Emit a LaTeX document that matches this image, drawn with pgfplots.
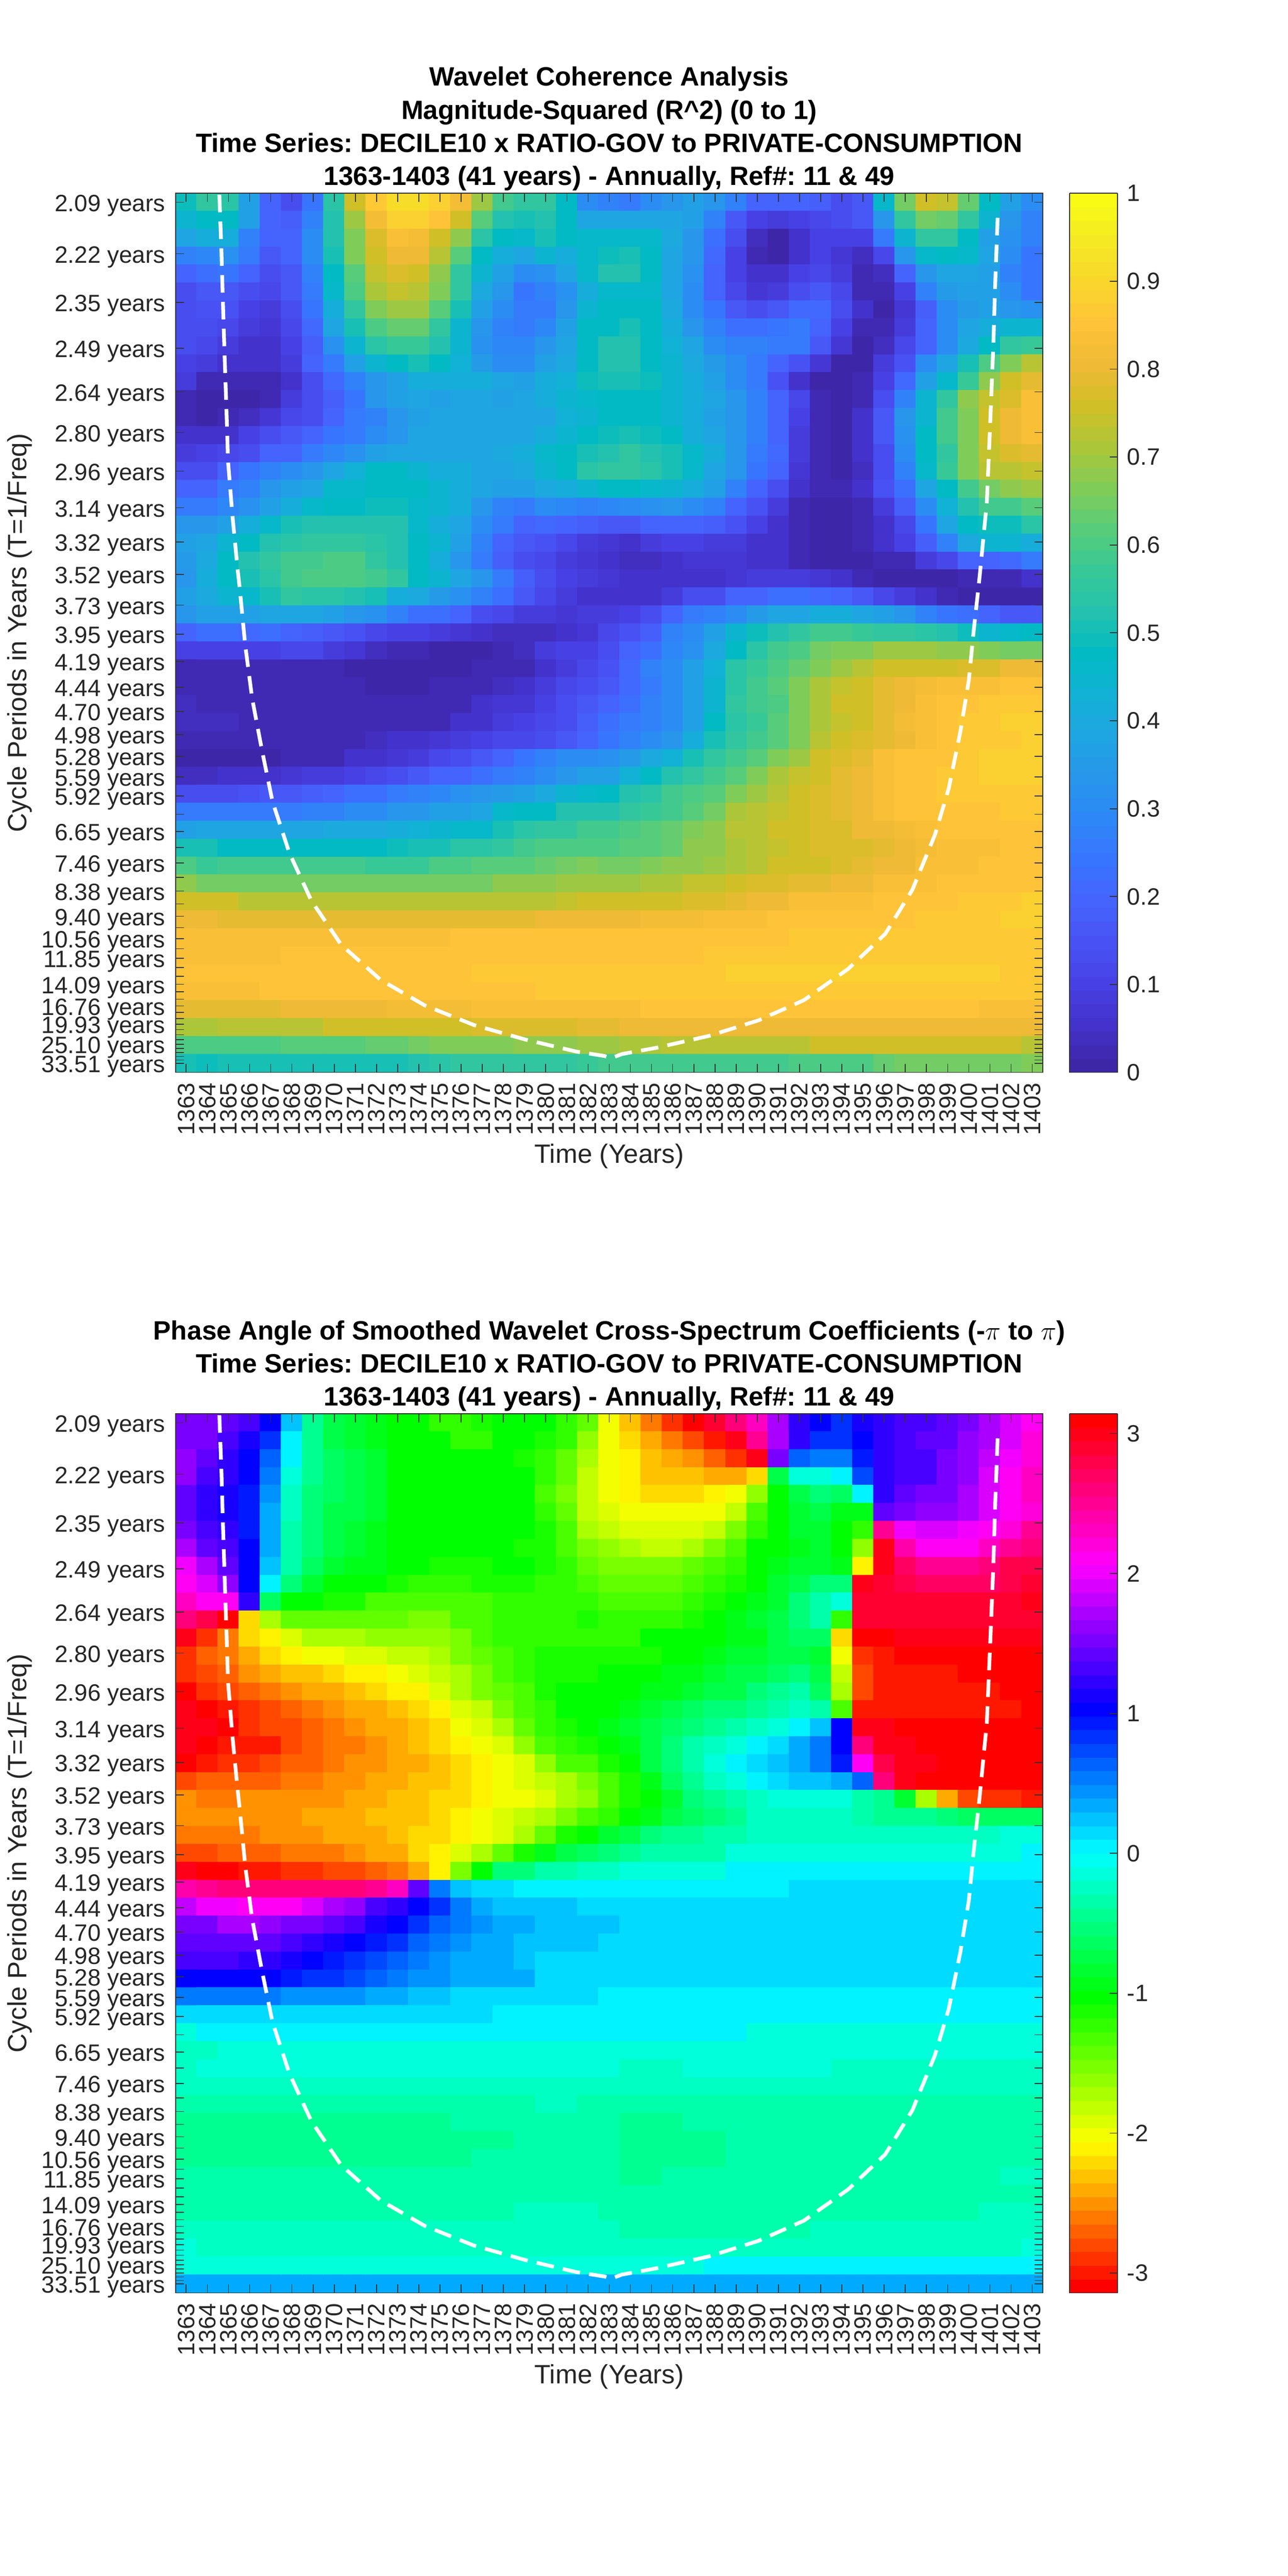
\documentclass[border=0pt]{standalone}
\usepackage{fontspec}
\setmainfont{Liberation Sans}
\usepackage{pgfplots}
\pgfplotsset{compat=1.18}
\frenchspacing

% base colour maps, both sampled to 64 levels further down
\pgfplotsset{colormap={parulabase}{
 rgb=(.2422,.1504,.6603) rgb=(.2647,.1978,.7952) rgb=(.2783,.2559,.8991) rgb=(.2810,.3228,.9579)
 rgb=(.2699,.3892,.9906) rgb=(.2206,.4603,.9973) rgb=(.1786,.5289,.9682) rgb=(.1540,.5902,.9218)
 rgb=(.1248,.6459,.8883) rgb=(.0689,.6948,.8394) rgb=(.0067,.7312,.7660) rgb=(.1408,.7584,.6842)
 rgb=(.2161,.7843,.5923) rgb=(.3406,.8008,.4789) rgb=(.5044,.7993,.3480) rgb=(.6720,.7793,.2227)
 rgb=(.8203,.7498,.1535) rgb=(.9393,.7288,.2100) rgb=(.9970,.7659,.2199) rgb=(.9786,.8386,.1766)
 rgb=(.9597,.9135,.1423) rgb=(.9769,.9839,.0805)}}
\pgfplotsset{colormap={hsvbase}{
 rgb=(1,0,0) rgb=(1,1,0) rgb=(0,1,0) rgb=(0,1,1) rgb=(0,0,1) rgb=(1,0,1) rgb=(1,0,0)}}
\pgfplotsset{colormap={parula64}{samples of colormap=(64 of parulabase)}}
\pgfplotsset{colormap={hsv64}{samples of colormap=(64 of hsvbase)}}

% one row of cells, top row first; rows are evenly spaced in frequency
\newcount\rowno
\def\cells{}
\newcommand\addrow[2]{%
 \pgfmathsetmacro\yy{0.4774-\the\rowno*0.009325}%
 \foreach \v [count=\i from 1363] in {#2}{\xdef\cells{\cells(\i,\yy)[#1\v]}\xdef\lasti{\i}}%
 \ifnum\lasti=1403 \else\errmessage{row \the\rowno\space ends at \lasti}\fi
 \global\advance\rowno by 1\relax}

% coherence, two digits after 0.
\addrow{0.}{49,56,54,36,20,13,24,54,76,86,92,92,88,82,70,58,55,55,48,30,27,25,30,33,36,33,27,20,20,20,18,13,17,46,65,75,74,63,47,37,30}
\addrow{0.}{45,47,47,36,20,18,28,52,70,82,88,88,85,76,62,53,50,52,47,39,38,38,38,38,36,27,17,10,09,10,12,13,16,34,55,65,63,55,45,33,27}
\addrow{0.}{38,42,41,28,20,20,30,52,66,78,83,82,76,68,54,47,46,50,47,46,46,46,46,40,33,23,13,04,01,05,10,10,10,25,44,56,56,48,36,32,27}
\addrow{0.}{27,29,32,26,17,19,30,50,66,76,81,80,73,62,47,42,38,44,41,46,49,50,47,38,33,21,10,03,01,06,10,07,04,12,33,46,47,46,38,30,24}
\addrow{0.}{20,23,24,19,14,17,28,47,61,74,78,76,68,56,45,37,30,32,38,46,52,52,47,38,32,20,10,05,05,10,12,08,02,04,20,33,38,38,36,28,24}
\addrow{0.}{13,17,17,14,11,16,25,46,60,71,74,72,67,55,40,33,24,27,32,41,46,46,46,38,30,20,12,07,08,14,17,12,03,03,10,28,35,36,36,30,24}
\addrow{0.}{13,15,15,10,08,13,24,42,55,67,70,70,61,50,36,30,25,26,34,45,48,48,47,40,31,24,17,14,16,21,21,14,05,01,07,18,30,35,37,34,32}
\addrow{0.}{13,14,12,08,07,12,21,38,50,60,64,64,56,45,33,28,25,29,36,47,48,50,47,42,33,27,23,23,24,25,20,10,03,03,09,20,30,38,42,44,44}
\addrow{0.}{13,12,08,06,06,10,18,32,44,54,57,57,53,45,32,29,29,33,38,47,52,52,48,43,38,30,27,27,25,25,16,07,01,04,12,20,30,40,48,55,57}
\addrow{0.}{10,09,06,05,06,09,20,26,36,45,47,50,47,43,35,30,30,37,40,47,52,52,48,44,40,35,30,26,20,15,07,01,01,08,15,30,38,50,60,67,73}
\addrow{0.}{08,03,03,02,02,05,13,21,27,33,37,42,42,42,42,38,36,41,43,49,50,50,49,44,41,36,30,25,15,05,01,01,03,10,21,37,46,57,68,76,79}
\addrow{0.}{03,01,01,01,03,08,13,18,24,33,36,38,37,38,38,37,38,42,44,46,47,48,47,45,42,38,33,28,20,11,03,01,02,14,28,44,55,68,74,78,84}
\addrow{0.}{03,01,03,04,07,12,14,20,25,28,33,37,38,38,39,38,38,39,43,45,47,47,47,45,41,37,33,27,19,10,03,01,05,17,33,45,58,67,76,80,84}
\addrow{0.}{05,05,06,10,14,16,20,24,25,30,34,38,38,38,39,39,39,41,44,48,49,50,49,48,42,38,34,28,20,09,03,01,06,16,32,47,58,67,76,80,84}
\addrow{0.}{09,10,12,14,20,20,25,29,32,36,38,38,39,39,39,40,42,46,47,50,53,55,53,50,46,41,34,26,21,08,03,01,05,14,31,47,55,66,74,77,79}
\addrow{0.}{13,13,20,24,27,30,33,38,43,47,47,44,42,41,39,39,40,45,48,54,56,56,54,50,46,38,34,24,19,07,03,01,04,13,27,46,57,66,72,72,74}
\addrow{0.}{20,20,26,27,34,36,38,46,46,47,47,47,44,42,38,36,36,40,42,45,47,47,46,45,42,36,28,20,13,06,02,02,05,15,23,38,48,58,65,68,70}
\addrow{0.}{26,26,29,32,37,41,46,48,48,49,49,46,45,41,34,28,25,30,29,28,29,30,32,33,31,27,20,15,08,03,01,01,03,08,18,31,43,52,58,58,62}
\addrow{0.}{33,33,36,42,46,50,52,53,52,53,52,46,42,38,30,25,20,21,20,18,17,17,19,20,20,18,15,10,06,02,01,01,03,06,12,24,38,47,49,49,54}
\addrow{0.}{36,38,44,47,53,54,55,56,56,54,52,47,45,37,27,20,17,15,12,09,07,06,08,10,10,09,08,06,05,03,01,01,02,05,10,18,27,40,45,45,41}
\addrow{0.}{35,40,47,53,56,58,59,60,60,55,53,48,42,34,25,18,14,12,09,07,06,04,04,05,07,07,07,06,05,02,01,01,01,02,03,08,11,20,20,21,26}
\addrow{0.}{34,41,47,50,54,58,60,60,60,58,55,47,44,38,33,26,18,14,10,09,07,06,05,05,06,06,07,08,09,08,07,05,03,01,01,01,01,03,03,02,06}
\addrow{0.}{36,40,45,46,50,55,54,54,52,50,42,40,35,32,28,22,16,11,09,06,05,05,06,09,13,14,19,20,22,22,21,20,16,11,09,05,03,01,01,00,00}
\addrow{0.}{33,36,37,37,38,38,38,36,34,32,28,23,22,20,14,11,08,08,07,08,08,10,13,20,26,28,31,35,38,39,41,41,38,37,33,28,24,22,20,17,17}
\addrow{0.}{20,22,22,21,22,19,18,16,15,12,10,10,08,07,05,04,04,04,06,07,12,15,18,27,30,36,45,49,53,56,58,58,57,56,56,54,52,49,45,46,47}
\addrow{0.}{10,10,10,10,10,12,11,08,07,04,03,02,01,01,01,03,04,08,10,10,14,19,23,29,32,40,48,54,58,60,65,66,67,69,70,70,68,68,67,65,65}
\addrow{0.}{03,02,02,02,02,02,02,02,01,01,01,01,01,01,02,02,03,06,08,11,15,21,27,31,36,43,54,57,60,63,66,70,73,75,76,76,76,77,77,80,80}
\addrow{0.}{03,03,03,03,03,02,02,03,02,01,01,01,03,03,03,04,06,09,12,13,16,21,25,30,37,45,54,58,61,67,71,74,76,79,80,82,83,84,84,85,85}
\addrow{0.}{04,03,03,03,03,03,03,03,03,02,02,02,03,03,05,07,07,10,13,16,20,23,27,30,37,45,56,58,60,67,71,75,76,79,80,84,85,85,86,86,86}
\addrow{0.}{04,04,04,03,03,03,03,03,03,03,03,03,03,05,05,08,10,12,14,18,22,25,28,31,37,47,54,57,62,67,71,74,76,79,82,84,85,86,87,88,88}
\addrow{0.}{03,03,03,03,03,03,03,03,03,04,05,05,07,09,10,11,12,14,17,19,24,27,30,33,42,50,55,58,61,66,72,75,77,79,80,84,85,86,86,87,88}
\addrow{0.}{01,01,01,01,01,02,03,03,05,06,07,09,12,13,17,20,24,27,31,30,32,35,40,43,50,55,58,62,66,70,75,77,79,84,85,85,85,87,88,89,89}
\addrow{0.}{04,04,05,05,06,07,08,09,10,12,14,16,19,20,23,25,28,30,33,36,37,43,47,53,55,58,62,66,71,74,75,79,80,84,85,85,86,87,88,88,88}
\addrow{0.}{13,13,14,15,16,17,18,20,22,23,25,27,29,32,34,35,37,40,45,46,48,52,54,58,60,61,66,70,72,76,77,79,81,84,85,85,86,87,87,87,87}
\addrow{0.}{25,25,26,26,26,26,28,28,30,31,33,34,36,37,38,46,47,48,52,52,53,55,57,59,62,65,71,72,74,76,77,79,81,83,85,85,85,85,85,86,86}
\addrow{0.}{36,38,38,38,39,39,39,40,40,40,42,43,44,46,46,51,54,55,56,58,59,60,62,63,67,68,72,73,75,76,77,78,80,81,82,83,85,85,85,85,85}
\addrow{0.}{50,50,47,48,47,48,47,47,47,47,49,50,50,54,54,56,58,60,60,60,60,61,62,64,68,68,71,72,74,76,77,78,78,79,80,82,83,84,84,85,85}
\addrow{0.}{60,57,58,58,58,58,58,58,58,57,57,57,60,60,61,62,62,64,65,66,65,65,66,68,68,69,71,73,75,76,76,77,79,80,81,83,83,84,85,85,85}
\addrow{0.}{68,65,65,65,65,65,65,65,65,65,65,65,65,65,65,68,68,68,70,70,70,70,71,71,74,74,76,78,78,79,79,80,81,83,84,84,85,85,85,85,85}
\addrow{0.}{75,75,75,72,72,72,72,72,72,72,72,72,72,72,72,72,73,73,74,75,75,75,76,76,78,78,79,80,81,83,83,84,84,85,85,85,85,86,86,86,88}
\addrow{0.}{81,81,79,79,79,79,79,79,79,79,79,79,79,79,79,79,79,80,80,80,80,80,82,82,82,83,84,84,85,85,85,85,85,85,85,86,86,86,86,88,88}
\addrow{0.}{83,83,83,83,83,83,83,83,83,83,83,83,83,85,85,85,85,85,85,85,85,85,85,85,85,85,85,85,85,86,86,86,86,86,86,86,86,86,86,86,86}
\addrow{0.}{83,83,83,83,83,85,85,85,85,85,85,85,85,85,85,85,85,85,85,85,85,85,85,85,85,86,86,86,86,86,86,86,86,86,86,86,86,86,86,86,86}
\addrow{0.}{85,85,85,85,85,85,85,85,85,85,85,85,85,85,86,86,86,86,86,86,86,86,86,86,86,86,88,88,88,88,88,88,88,88,88,88,88,88,88,86,86}
\addrow{0.}{83,83,83,83,85,85,85,85,85,85,85,85,85,85,85,85,85,86,86,86,86,86,86,86,86,86,86,86,86,86,86,86,86,86,86,86,86,86,86,86,86}
\addrow{0.}{79,79,79,79,79,80,80,80,80,80,82,82,82,82,84,84,84,84,84,84,84,84,85,85,85,85,85,85,85,85,85,85,85,85,85,85,85,85,83,83,83}
\addrow{0.}{71,71,72,72,72,72,72,75,75,75,75,76,76,76,77,77,77,78,78,79,79,80,80,80,80,80,80,81,81,81,81,81,81,81,81,81,81,81,81,80,80}
\addrow{0.}{60,60,60,60,60,61,62,62,62,63,64,65,66,66,67,67,68,68,68,70,70,71,71,72,72,72,72,73,73,73,75,75,75,75,75,76,76,76,75,75,73}
\addrow{0.}{50,49,50,50,50,50,50,50,51,51,51,53,54,55,55,55,56,56,56,57,58,58,58,58,58,58,58,58,58,60,60,60,60,63,65,65,65,65,65,65,66}
\global\let\cellsA\cells
\gdef\cells{}\global\rowno=0

% phase angle, radians
\addrow{}{1.5,1.5,1.4,1.3,1.0,0.2,-0.4,-0.7,-0.8,-0.9,-1.0,-1.0,-1.2,-1.2,-1.1,-1.0,-1.0,-1.0,-1.2,-1.4,-2.0,-2.3,-2.6,-2.9,-3.1,2.9,2.6,2.3,1.7,1.2,1.0,0.8,1.1,1.2,1.3,1.3,1.4,1.5,1.7,1.9,2.1}
\addrow{}{1.5,1.5,1.3,1.1,0.8,0.0,-0.4,-0.7,-0.8,-0.9,-1.0,-1.0,-1.0,-1.2,-1.2,-1.0,-1.0,-1.1,-1.2,-1.6,-2.0,-2.2,-2.4,-2.6,-2.8,-3.0,3.0,2.5,1.7,1.2,0.8,0.8,1.0,1.2,1.3,1.4,1.4,1.6,1.7,1.9,2.2}
\addrow{}{1.6,1.4,1.2,1.0,0.6,0.0,-0.4,-0.6,-0.7,-0.8,-1.0,-1.0,-1.0,-1.0,-1.0,-1.0,-1.1,-1.2,-1.4,-1.7,-2.0,-2.1,-2.3,-2.4,-2.5,-2.7,-2.9,3.0,1.5,0.6,0.5,0.5,0.9,1.2,1.3,1.3,1.5,1.6,1.8,2.0,2.2}
\addrow{}{1.6,1.3,1.2,1.0,0.5,-0.1,-0.4,-0.6,-0.7,-0.8,-1.0,-1.0,-1.0,-1.0,-1.0,-1.0,-1.0,-1.2,-1.4,-1.8,-2.0,-2.1,-2.3,-2.3,-2.3,-2.4,-2.4,-2.2,-0.7,-0.1,-0.1,0.0,0.7,1.2,1.3,1.3,1.5,1.6,1.9,2.1,2.3}
\addrow{}{1.4,1.2,1.1,0.9,0.4,-0.2,-0.5,-0.6,-0.7,-0.8,-1.0,-1.0,-1.0,-1.0,-1.0,-1.0,-1.0,-1.3,-1.5,-1.8,-2.0,-2.1,-2.2,-2.2,-2.2,-2.1,-2.0,-1.6,-1.0,-0.7,-0.5,-0.6,0.0,1.2,1.4,1.5,1.5,1.7,1.9,2.1,2.3}
\addrow{}{1.4,1.2,1.1,0.9,0.3,-0.2,-0.5,-0.7,-0.7,-0.8,-1.0,-1.0,-1.0,-1.0,-1.0,-1.0,-1.0,-1.2,-1.4,-1.8,-1.9,-2.0,-2.0,-2.0,-2.0,-2.0,-1.8,-1.3,-1.0,-0.8,-0.7,-0.9,-0.9,1.4,1.5,1.6,1.6,1.7,1.9,2.1,2.2}
\addrow{}{1.5,1.3,1.2,0.9,0.3,-0.3,-0.5,-0.7,-0.8,-0.9,-1.0,-1.0,-1.0,-1.0,-1.0,-1.0,-1.0,-1.1,-1.3,-1.7,-1.8,-1.9,-1.9,-1.9,-1.9,-1.8,-1.5,-1.2,-1.0,-0.8,-0.8,-1.0,-1.2,2.5,2.0,1.9,1.9,2.0,2.1,2.2,2.5}
\addrow{}{1.7,1.4,1.3,1.0,0.3,-0.3,-0.5,-0.7,-0.8,-0.9,-1.0,-1.0,-1.0,-1.0,-1.0,-1.0,-1.1,-1.1,-1.3,-1.5,-1.6,-1.7,-1.8,-1.8,-1.7,-1.5,-1.3,-1.0,-1.0,-0.9,-0.8,-1.0,-1.6,3.0,2.4,2.1,2.1,2.1,2.3,2.5,2.6}
\addrow{}{2.0,1.7,1.4,1.0,0.2,-0.3,-0.6,-0.8,-0.9,-0.9,-1.0,-1.0,-1.1,-1.1,-1.1,-1.0,-1.0,-1.1,-1.2,-1.4,-1.5,-1.5,-1.5,-1.5,-1.4,-1.3,-1.2,-1.0,-0.9,-0.8,-0.8,-0.9,-2.1,3.0,2.7,2.5,2.5,2.5,2.6,2.8,2.8}
\addrow{}{2.1,1.9,1.6,1.0,0.0,-0.5,-0.8,-1.0,-1.0,-1.0,-1.1,-1.2,-1.2,-1.2,-1.1,-1.1,-1.1,-1.2,-1.2,-1.3,-1.4,-1.4,-1.4,-1.4,-1.3,-1.2,-1.1,-1.0,-0.8,-0.7,-0.5,-0.5,3.0,2.9,2.8,2.7,2.7,2.7,2.7,2.8,2.9}
\addrow{}{2.3,2.1,2.1,1.2,-0.6,-1.0,-1.0,-1.1,-1.1,-1.3,-1.3,-1.3,-1.3,-1.3,-1.3,-1.2,-1.2,-1.2,-1.2,-1.2,-1.3,-1.3,-1.3,-1.3,-1.2,-1.1,-1.0,-0.9,-0.8,-0.5,-0.3,-0.1,2.9,2.9,2.9,2.9,2.9,2.9,2.9,2.9,3.0}
\addrow{}{2.6,2.8,3.1,-2.2,-1.7,-1.4,-1.4,-1.4,-1.4,-1.4,-1.4,-1.5,-1.5,-1.3,-1.3,-1.2,-1.2,-1.2,-1.2,-1.1,-1.2,-1.2,-1.2,-1.2,-1.1,-1.0,-0.9,-0.8,-0.7,-0.5,-0.3,-1.2,2.9,2.9,2.9,2.9,2.9,2.9,2.9,2.9,2.9}
\addrow{}{3.0,-2.9,-2.6,-2.2,-2.1,-1.9,-1.7,-1.7,-1.7,-1.6,-1.6,-1.6,-1.6,-1.5,-1.3,-1.2,-1.2,-1.2,-1.2,-1.2,-1.2,-1.2,-1.0,-1.0,-1.0,-1.0,-0.9,-0.9,-0.7,-0.6,-0.6,-2.2,3.1,3.1,3.0,3.0,3.0,3.0,3.0,3.0,3.0}
\addrow{}{-2.9,-2.7,-2.6,-2.4,-2.2,-2.1,-2.0,-2.0,-1.9,-1.9,-1.8,-1.8,-1.7,-1.5,-1.4,-1.3,-1.2,-1.1,-1.1,-1.1,-1.1,-1.1,-1.1,-1.0,-1.0,-0.9,-0.8,-0.8,-0.7,-0.7,-0.8,-2.0,-2.9,-3.0,3.1,3.1,3.1,3.1,3.1,3.1,3.1}
\addrow{}{-2.9,-2.8,-2.7,-2.5,-2.4,-2.3,-2.3,-2.2,-2.1,-2.1,-2.0,-1.9,-1.8,-1.7,-1.5,-1.3,-1.2,-1.1,-1.1,-1.1,-1.0,-1.0,-1.0,-0.9,-0.9,-0.8,-0.7,-0.7,-0.6,-0.5,-0.7,-1.8,-2.8,-3.0,-3.0,-3.0,-3.0,3.1,3.1,3.1,3.1}
\addrow{}{3.1,-2.9,-2.8,-2.7,-2.6,-2.5,-2.4,-2.4,-2.3,-2.2,-2.1,-2.1,-1.9,-1.7,-1.5,-1.4,-1.3,-1.1,-1.0,-1.0,-1.0,-1.0,-0.9,-0.9,-0.8,-0.7,-0.7,-0.5,-0.4,-0.3,-0.6,-1.7,-2.8,-3.0,-3.0,-3.0,-3.0,-3.0,-3.0,3.1,3.1}
\addrow{}{3.0,3.1,-3.0,-2.9,-2.8,-2.7,-2.6,-2.5,-2.4,-2.4,-2.3,-2.2,-2.1,-1.9,-1.8,-1.5,-1.3,-1.2,-1.0,-1.0,-1.0,-0.9,-0.8,-0.7,-0.6,-0.5,-0.5,-0.4,-0.3,-0.2,-0.3,-1.3,-3.0,-3.0,-3.0,-3.0,-3.0,-3.0,-3.0,-3.0,3.1}
\addrow{}{3.0,3.0,3.1,-2.9,-2.8,-2.8,-2.7,-2.6,-2.5,-2.4,-2.4,-2.3,-2.2,-2.0,-1.9,-1.7,-1.4,-1.2,-1.1,-1.0,-0.9,-0.8,-0.7,-0.6,-0.5,-0.4,-0.3,-0.2,-0.1,0.0,0.2,1.0,3.0,3.0,3.1,3.1,3.1,3.1,3.1,3.1,3.1}
\addrow{}{3.0,3.1,-3.0,-3.0,-3.0,-2.8,-2.7,-2.6,-2.6,-2.5,-2.4,-2.3,-2.2,-2.1,-2.0,-1.9,-1.6,-1.3,-1.2,-1.1,-1.0,-0.9,-0.7,-0.5,-0.3,-0.2,-0.1,0.0,0.1,0.3,0.5,1.0,2.6,3.0,3.0,3.1,3.1,3.1,3.1,3.1,3.1}
\addrow{}{3.1,-3.0,-2.9,-2.9,-2.8,-2.7,-2.7,-2.6,-2.5,-2.5,-2.4,-2.4,-2.3,-2.2,-2.1,-2.0,-1.9,-1.6,-1.3,-1.3,-1.1,-1.0,-0.7,-0.5,-0.3,-0.1,0.0,0.1,0.2,0.3,0.5,0.9,2.1,2.8,3.0,3.0,3.1,3.1,3.1,3.1,3.1}
\addrow{}{-2.8,-2.7,-2.7,-2.7,-2.7,-2.6,-2.6,-2.5,-2.5,-2.4,-2.4,-2.3,-2.3,-2.2,-2.1,-2.0,-1.9,-1.8,-1.7,-1.5,-1.3,-1.1,-0.9,-0.6,-0.4,-0.2,-0.1,0.0,0.1,0.2,0.2,0.3,0.6,2.6,3.0,3.1,3.1,3.1,3.1,3.1,3.1}
\addrow{}{-2.5,-2.6,-2.6,-2.5,-2.5,-2.5,-2.5,-2.5,-2.4,-2.4,-2.3,-2.3,-2.2,-2.2,-2.1,-2.0,-2.0,-1.9,-1.7,-1.6,-1.3,-1.1,-1.0,-0.8,-0.5,-0.4,-0.3,-0.2,-0.1,-0.1,-0.1,-0.1,-0.3,-0.4,-0.8,-1.7,-2.4,-2.8,-2.9,-2.9,-3.0}
\addrow{}{-2.5,-2.5,-2.5,-2.5,-2.5,-2.5,-2.4,-2.4,-2.4,-2.3,-2.3,-2.3,-2.2,-2.1,-2.0,-1.9,-1.8,-1.7,-1.5,-1.3,-1.2,-1.0,-0.9,-0.7,-0.6,-0.5,-0.4,-0.2,-0.2,-0.2,-0.2,-0.2,-0.3,-0.4,-0.4,-0.4,-0.5,-0.6,-0.6,-0.6,-0.6}
\addrow{}{-2.6,-2.6,-2.6,-2.6,-2.5,-2.5,-2.5,-2.4,-2.4,-2.4,-2.3,-2.2,-2.2,-2.1,-2.0,-1.9,-1.7,-1.4,-1.1,-1.0,-0.8,-0.7,-0.5,-0.4,-0.4,-0.3,-0.3,-0.2,-0.2,-0.2,-0.2,-0.2,-0.2,-0.2,-0.2,-0.2,-0.2,-0.2,-0.2,-0.1,-0.1}
\addrow{}{-2.8,-2.8,-2.7,-2.7,-2.7,-2.6,-2.6,-2.6,-2.5,-2.4,-2.4,-2.2,-2.1,-1.9,-1.7,-1.4,-1.1,-0.9,-0.7,-0.6,-0.5,-0.4,-0.3,-0.3,-0.3,-0.3,-0.1,-0.1,-0.1,-0.1,-0.1,-0.1,-0.1,-0.1,-0.1,-0.1,-0.1,-0.1,-0.1,-0.1,0.0}
\addrow{}{3.0,3.1,3.1,-3.0,-3.0,-2.9,-2.9,-2.8,-2.8,-2.7,-2.6,-2.4,-2.1,-1.5,-1.0,-0.5,-0.5,-0.3,-0.3,-0.2,-0.2,-0.1,-0.1,-0.1,-0.1,-0.1,0.0,0.0,0.0,0.0,0.0,0.0,0.0,0.0,0.0,0.0,0.0,0.0,0.0,0.0,0.0}
\addrow{}{2.4,2.5,2.6,2.6,2.6,2.6,2.6,2.6,2.6,2.5,2.3,1.4,0.5,0.2,0.1,0.1,0.0,0.0,0.0,0.0,0.0,0.0,0.0,0.0,0.0,0.0,0.0,0.0,0.0,0.1,0.1,0.1,0.1,0.1,0.1,0.1,0.1,0.1,0.1,0.1,0.1}
\addrow{}{1.8,2.0,2.0,2.1,2.1,2.1,1.9,1.7,1.6,1.3,1.2,1.0,0.8,0.5,0.3,0.2,0.2,0.2,0.2,0.1,0.1,0.1,0.1,0.1,0.1,0.1,0.1,0.1,0.1,0.1,0.1,0.1,0.1,0.1,0.1,0.1,0.1,0.1,0.1,0.1,0.1}
\addrow{}{1.5,1.5,1.7,1.7,1.6,1.5,1.5,1.4,1.3,1.1,1.0,0.8,0.6,0.5,0.4,0.3,0.3,0.2,0.2,0.2,0.2,0.1,0.1,0.1,0.1,0.1,0.1,0.1,0.1,0.1,0.1,0.1,0.1,0.1,0.1,0.1,0.1,0.1,0.1,0.1,0.1}
\addrow{}{1.4,1.4,1.4,1.4,1.4,1.3,1.2,1.1,1.0,0.9,0.8,0.6,0.5,0.4,0.3,0.3,0.2,0.2,0.2,0.2,0.1,0.1,0.1,0.1,0.1,0.1,0.1,0.1,0.1,0.1,0.1,0.1,0.1,0.1,0.1,0.1,0.1,0.1,0.1,0.1,0.1}
\addrow{}{1.3,1.3,1.3,1.2,1.2,1.1,1.0,0.9,0.8,0.7,0.6,0.5,0.4,0.3,0.3,0.3,0.2,0.1,0.1,0.1,0.1,0.1,0.1,0.1,0.1,0.1,0.1,0.1,0.1,0.1,0.1,0.1,0.1,0.1,0.1,0.1,0.1,0.1,0.1,0.1,0.1}
\addrow{}{1.0,1.0,1.0,1.0,1.0,0.9,0.8,0.8,0.7,0.6,0.5,0.4,0.4,0.3,0.3,0.3,0.3,0.1,0.1,0.1,0.1,0.1,0.1,0.1,0.1,0.1,0.1,0.1,0.1,0.1,0.1,0.1,0.1,0.1,0.1,0.1,0.1,0.1,0.1,0.1,0.1}
\addrow{}{0.5,0.5,0.5,0.5,0.5,0.4,0.4,0.4,0.4,0.3,0.3,0.2,0.2,0.1,0.1,0.1,0.1,0.1,0.1,0.1,0.0,0.0,0.0,0.0,0.0,0.0,0.0,0.0,0.0,0.0,0.0,0.0,0.0,0.0,0.0,0.0,0.0,0.0,0.0,0.0,0.0}
\addrow{}{0.1,0.1,0.1,0.1,0.1,0.1,0.1,0.1,0.1,0.1,0.1,0.1,0.1,0.1,0.1,0.0,0.0,0.0,0.0,0.0,0.0,0.0,0.0,0.0,0.0,0.0,0.0,0.0,0.0,0.0,0.0,0.0,0.0,0.0,0.0,0.0,0.0,0.0,0.0,0.0,0.0}
\addrow{}{-0.1,0.0,0.0,0.0,0.0,0.0,0.0,0.0,0.0,0.0,0.0,0.0,0.0,0.0,0.0,0.0,0.0,0.0,0.0,0.0,0.0,0.0,0.0,0.0,0.0,0.0,0.0,-0.1,-0.1,-0.1,-0.1,-0.1,-0.1,-0.1,-0.1,-0.1,-0.1,-0.1,-0.1,-0.1,-0.1}
\addrow{}{-0.2,-0.2,-0.1,-0.1,-0.1,-0.1,-0.1,-0.1,-0.1,-0.1,-0.1,-0.1,-0.1,-0.1,-0.1,-0.1,-0.1,-0.1,-0.1,-0.1,-0.1,-0.1,-0.1,-0.1,-0.1,-0.1,-0.1,-0.1,-0.1,-0.1,-0.1,-0.1,-0.1,-0.1,-0.1,-0.1,-0.1,-0.1,-0.1,-0.1,-0.1}
\addrow{}{-0.2,-0.1,-0.1,-0.1,-0.1,-0.1,-0.1,-0.1,-0.1,-0.1,-0.1,-0.1,-0.1,-0.1,-0.1,-0.1,-0.1,-0.1,-0.1,-0.1,-0.1,-0.2,-0.2,-0.2,-0.1,-0.1,-0.1,-0.1,-0.1,-0.1,-0.1,-0.2,-0.2,-0.2,-0.2,-0.2,-0.2,-0.2,-0.2,-0.2,-0.2}
\addrow{}{-0.2,-0.2,-0.2,-0.2,-0.2,-0.2,-0.2,-0.2,-0.2,-0.2,-0.2,-0.2,-0.2,-0.2,-0.2,-0.2,-0.2,-0.2,-0.2,-0.2,-0.2,-0.2,-0.2,-0.2,-0.2,-0.2,-0.2,-0.2,-0.2,-0.2,-0.2,-0.2,-0.2,-0.2,-0.2,-0.2,-0.2,-0.2,-0.2,-0.2,-0.2}
\addrow{}{-0.3,-0.3,-0.3,-0.3,-0.3,-0.3,-0.3,-0.3,-0.3,-0.3,-0.3,-0.3,-0.3,-0.3,-0.3,-0.3,-0.3,-0.2,-0.2,-0.3,-0.3,-0.3,-0.3,-0.3,-0.3,-0.3,-0.3,-0.3,-0.3,-0.3,-0.3,-0.3,-0.3,-0.3,-0.3,-0.3,-0.3,-0.3,-0.3,-0.3,-0.3}
\addrow{}{-0.4,-0.4,-0.4,-0.4,-0.4,-0.4,-0.4,-0.4,-0.4,-0.4,-0.4,-0.4,-0.4,-0.3,-0.3,-0.3,-0.3,-0.3,-0.3,-0.3,-0.3,-0.4,-0.4,-0.4,-0.3,-0.3,-0.3,-0.3,-0.3,-0.3,-0.3,-0.3,-0.3,-0.3,-0.3,-0.3,-0.3,-0.3,-0.3,-0.3,-0.3}
\addrow{}{-0.4,-0.4,-0.4,-0.4,-0.4,-0.4,-0.4,-0.4,-0.4,-0.4,-0.4,-0.4,-0.4,-0.4,-0.4,-0.4,-0.3,-0.3,-0.3,-0.3,-0.3,-0.4,-0.4,-0.4,-0.4,-0.4,-0.3,-0.3,-0.3,-0.3,-0.3,-0.3,-0.3,-0.3,-0.3,-0.3,-0.3,-0.3,-0.3,-0.3,-0.3}
\addrow{}{-0.4,-0.4,-0.4,-0.4,-0.4,-0.4,-0.4,-0.4,-0.4,-0.4,-0.4,-0.4,-0.4,-0.4,-0.3,-0.3,-0.3,-0.3,-0.3,-0.3,-0.3,-0.4,-0.4,-0.4,-0.4,-0.4,-0.3,-0.3,-0.3,-0.3,-0.3,-0.3,-0.3,-0.3,-0.3,-0.3,-0.3,-0.3,-0.3,-0.3,-0.3}
\addrow{}{-0.3,-0.3,-0.3,-0.3,-0.3,-0.3,-0.3,-0.3,-0.3,-0.3,-0.3,-0.3,-0.3,-0.3,-0.3,-0.3,-0.3,-0.3,-0.3,-0.3,-0.3,-0.4,-0.4,-0.3,-0.3,-0.3,-0.3,-0.3,-0.3,-0.3,-0.3,-0.3,-0.3,-0.3,-0.3,-0.3,-0.3,-0.3,-0.3,-0.2,-0.2}
\addrow{}{-0.3,-0.3,-0.3,-0.3,-0.3,-0.3,-0.3,-0.3,-0.3,-0.3,-0.3,-0.3,-0.3,-0.3,-0.3,-0.3,-0.3,-0.3,-0.3,-0.3,-0.3,-0.3,-0.3,-0.3,-0.3,-0.3,-0.3,-0.3,-0.3,-0.3,-0.3,-0.3,-0.3,-0.3,-0.3,-0.3,-0.3,-0.3,-0.3,-0.3,-0.3}
\addrow{}{-0.3,-0.3,-0.3,-0.3,-0.3,-0.3,-0.3,-0.3,-0.3,-0.3,-0.3,-0.3,-0.3,-0.3,-0.3,-0.3,-0.2,-0.2,-0.2,-0.2,-0.3,-0.3,-0.3,-0.3,-0.3,-0.3,-0.3,-0.3,-0.3,-0.3,-0.3,-0.3,-0.3,-0.3,-0.3,-0.3,-0.3,-0.3,-0.2,-0.2,-0.2}
\addrow{}{-0.2,-0.2,-0.2,-0.2,-0.2,-0.2,-0.2,-0.2,-0.2,-0.2,-0.2,-0.2,-0.2,-0.2,-0.2,-0.2,-0.2,-0.2,-0.2,-0.2,-0.2,-0.3,-0.3,-0.3,-0.3,-0.3,-0.3,-0.3,-0.3,-0.3,-0.2,-0.2,-0.2,-0.2,-0.2,-0.2,-0.2,-0.2,-0.2,-0.2,-0.2}
\addrow{}{-0.1,-0.2,-0.2,-0.2,-0.2,-0.2,-0.2,-0.2,-0.2,-0.2,-0.2,-0.2,-0.2,-0.2,-0.2,-0.2,-0.2,-0.2,-0.2,-0.2,-0.2,-0.2,-0.2,-0.2,-0.2,-0.2,-0.2,-0.2,-0.2,-0.2,-0.2,-0.2,-0.2,-0.2,-0.2,-0.2,-0.2,-0.2,-0.2,-0.2,-0.1}
\addrow{}{-0.1,-0.1,-0.1,-0.1,-0.1,-0.1,-0.1,-0.1,-0.1,-0.1,-0.1,-0.1,-0.1,-0.1,-0.1,-0.1,-0.1,-0.1,-0.1,-0.1,-0.1,-0.1,-0.1,-0.1,-0.1,0.0,0.0,0.0,0.0,0.0,0.0,0.0,0.0,0.0,0.0,0.0,0.0,0.0,0.0,0.0,0.0}
\addrow{}{0.3,0.3,0.3,0.3,0.3,0.3,0.3,0.3,0.3,0.3,0.3,0.3,0.3,0.3,0.3,0.3,0.3,0.3,0.3,0.3,0.3,0.3,0.3,0.3,0.3,0.3,0.3,0.3,0.3,0.3,0.3,0.3,0.3,0.3,0.3,0.3,0.3,0.3,0.3,0.3,0.3}
\global\let\cellsB\cells

\pgfplotsset{
 heat/.style={matrix plot*,mesh/cols=41,point meta=explicit},
 coi/.style={white,line width=1.7bp,dash pattern=on 8bp off 4.2bp,no marks},
 wavelet/.style={
  scale only axis,width=394.7bp,height=400.1bp,axis on top,
  xmin=1362.5,xmax=1403.5,ymin=0.02514,ymax=0.48206,
  xtick={1363,1364,...,1403},
  ytick={.4774,.4506,.4253,.4015,.3789,.3577,.3376,.3186,.3008,.2839,.2680,.2529,.2387,.2253,.2127,.2007,.1895,.1788,.1688,.1593,.1504,.1420,.1340,.1265,.1194,.1127,.1063,.1004,.0947,.0894,.0844,.0797,.0752,.0710,.0670,.0632,.0597,.0563,.0532,.0502,.0474,.0447,.0422,.0398,.0376,.0355,.0335,.0316,.0298},
  yticklabels={2.09 years,2.22 years,2.35 years,2.49 years,2.64 years,2.80 years,2.96 years,3.14 years,3.32 years,3.52 years,3.73 years,3.95 years,4.19 years,4.44 years,4.70 years,4.98 years,5.28 years,5.59 years,5.92 years,,6.65 years,,7.46 years,,8.38 years,,9.40 years,,10.56 years,,11.85 years,,,14.09 years,,,16.76 years,,,19.93 years,,,,25.10 years,,,,,33.51 years},
  tick align=inside,major tick length=3.9bp,
  axis line style={draw=black!80,line width=.4pt},
  tick style={draw=black!80,line width=.4pt},
  /pgf/number format/1000 sep={},/pgf/number format/assume math mode=true,
  tick label style={font=\fontsize{10.8}{12}\selectfont,text=black!85},
  x tick label style={yshift=-4.5bp,rotate=90,anchor=east,inner sep=0pt},
  y tick label style={anchor=east,inner sep=0pt,xshift=-4.5bp,yshift=-1.5bp},
  xlabel={Time (Years)},ylabel={Cycle Periods in Years (T=1/Freq)},
  every axis x label/.style={at={(axis description cs:0.5,-0.0951)},anchor=center,font=\fontsize{12.1}{14}\selectfont,text=black!85},
  every axis y label/.style={at={(axis description cs:-0.1796,0.5)},anchor=center,rotate=90,font=\fontsize{12.1}{14}\selectfont,text=black!85},
  title style={font=\fontsize{12.1}{15.1}\selectfont\bfseries,align=center,inner sep=0pt,yshift=-5bp},
  colormap access=piecewise constant,
  colorbar,colorbar sampled,
 },
 wbar/.style={
  samples=65,scale only axis,width=21.75bp,height=400.1bp,
  at={(parent axis.north east)},anchor=north west,xshift=3.6bp,
  ytick pos=right,tick align=inside,major tick length=3.5bp,
  y tick label style={anchor=west,inner sep=0pt,xshift=4.3bp},
  yticklabel pos=right,
  tick label style={font=\fontsize{10.8}{12}\selectfont,text=black!85},
  axis line style={draw=black!80,line width=.4pt},
  tick style={draw=black!80,line width=.4pt},
 },
}

\begin{document}
\begin{tikzpicture}
\path[use as bounding box] (0,0) rectangle (585.94bp,1172.25bp);
\begin{axis}[wavelet,at={(79.9bp,684.2bp)},anchor=south west,
  colormap name=parula64,point meta min=0,point meta max=1,
  title={Wavelet Coherence Analysis\\Magnitude-Squared (R\^{}2) (0 to 1)\\Time Series: DECILE10 x RATIO-GOV to PRIVATE-CONSUMPTION\\1363-1403 (41 years) - Annually, Ref\#: 11 \& 49},
  colorbar style={wbar,ytick={0,0.1,...,1},yticklabels={0,0.1,0.2,0.3,0.4,0.5,0.6,0.7,0.8,0.9,1}}]
\edef\temp{\noexpand\addplot[heat] coordinates {\cellsA};}\temp
\addplot[coi] coordinates {(1364.57,.4813)(1364.67,.4511)(1364.74,.4245)(1364.82,.3969)(1364.90,.3712)(1364.98,.3427)(1365.19,.3142)(1365.44,.2859)(1365.53,.2769)(1365.79,.2474)(1366.12,.2195)(1366.58,.1928)(1367.08,.1660)(1367.88,.1392)(1368.92,.1144)(1370.33,.0915)(1372.20,.0732)(1374.28,.0600)(1376.6,.0498)(1379.05,.0422)(1381.44,.0360)(1382.78,.0337)(1383.07,.0325)(1383.6,.0347)(1385.2,.0379)(1387.7,.0441)(1390.05,.0522)(1392.2,.0627)(1394.3,.0790)(1396.05,.0972)(1397.33,.1201)(1398.4,.1488)(1399.05,.1728)(1399.6,.2024)(1400.0,.2292)(1400.22,.2540)(1400.45,.2769)(1400.52,.2842)(1400.85,.3215)(1401.0,.3605)(1401.15,.4014)(1401.25,.4367)(1401.37,.4723)};
\end{axis}
\begin{axis}[wavelet,at={(79.9bp,128.8bp)},anchor=south west,
  colormap name=hsv64,point meta min=-3.1416,point meta max=3.1416,
  title={Phase Angle of Smoothed Wavelet Cross-Spectrum Coefficients (-$\pi$ to $\pi$)\\Time Series: DECILE10 x RATIO-GOV to PRIVATE-CONSUMPTION\\1363-1403 (41 years) - Annually, Ref\#: 11 \& 49},
  colorbar style={wbar,ytick={-3,-2,-1,0,1,2,3},yticklabels={-3,-2,-1,0,1,2,3}}]
\edef\temp{\noexpand\addplot[heat] coordinates {\cellsB};}\temp
\addplot[coi] coordinates {(1364.57,.4813)(1364.67,.4511)(1364.74,.4245)(1364.82,.3969)(1364.90,.3712)(1364.98,.3427)(1365.19,.3142)(1365.44,.2859)(1365.53,.2769)(1365.79,.2474)(1366.12,.2195)(1366.58,.1928)(1367.08,.1660)(1367.88,.1392)(1368.92,.1144)(1370.33,.0915)(1372.20,.0732)(1374.28,.0600)(1376.6,.0498)(1379.05,.0422)(1381.44,.0360)(1382.78,.0337)(1383.07,.0325)(1383.6,.0347)(1385.2,.0379)(1387.7,.0441)(1390.05,.0522)(1392.2,.0627)(1394.3,.0790)(1396.05,.0972)(1397.33,.1201)(1398.4,.1488)(1399.05,.1728)(1399.6,.2024)(1400.0,.2292)(1400.22,.2540)(1400.45,.2769)(1400.52,.2842)(1400.85,.3215)(1401.0,.3605)(1401.15,.4014)(1401.25,.4367)(1401.37,.4723)};
\end{axis}
\end{tikzpicture}
\end{document}
